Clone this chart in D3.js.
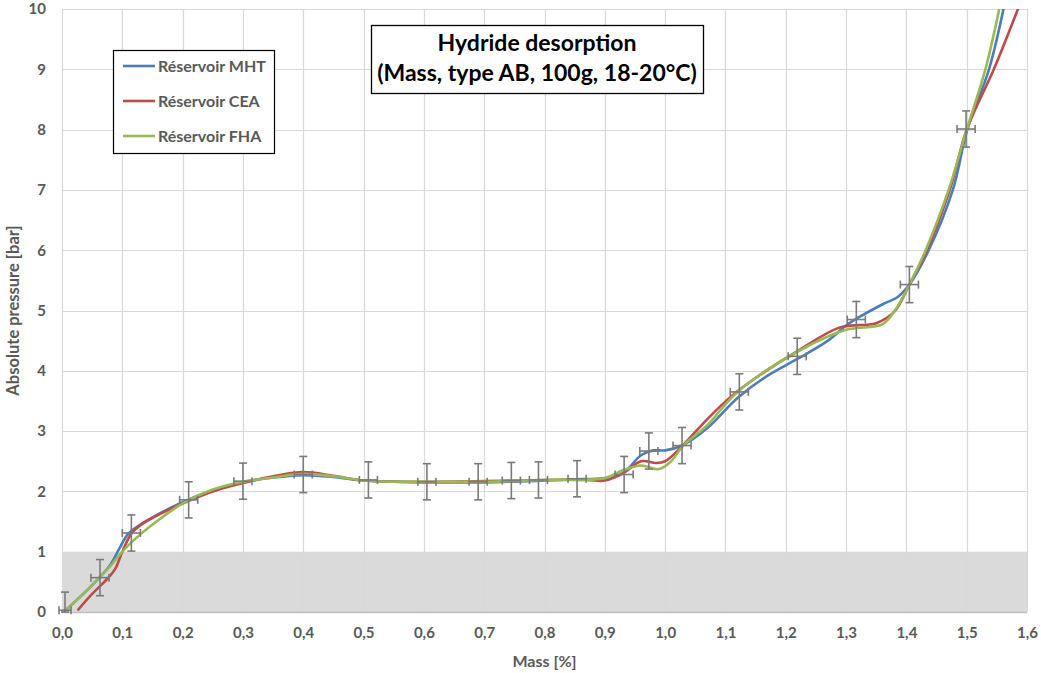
<!DOCTYPE html>
<html>
<head>
<meta charset="utf-8">
<script src="https://cdn.jsdelivr.net/npm/d3@7"></script>
<style>
  html, body { margin: 0; padding: 0; background: #ffffff; }
  svg { display: block; font-family: Lato, "Open Sans", sans-serif; }
</style>
</head>
<body>
<svg id="chart" width="1041" height="673"></svg>
<script>
// Desorption curves: mass [%] vs absolute pressure [bar]
const mhtMass = [0.005, 0.03, 0.06, 0.08, 0.095, 0.11, 0.13, 0.15, 0.2, 0.25, 0.3, 0.35, 0.4, 0.45, 0.5, 0.55, 0.6, 0.7, 0.8, 0.85, 0.9, 0.93, 0.96, 0.98, 1.0, 1.03, 1.07, 1.12, 1.17, 1.22, 1.27, 1.3, 1.32, 1.36, 1.385, 1.405, 1.437, 1.477, 1.501, 1.537, 1.561];
const mhtPressure = [0.02, 0.25, 0.55, 0.78, 1.05, 1.3, 1.45, 1.57, 1.82, 2.02, 2.15, 2.23, 2.27, 2.24, 2.18, 2.16, 2.15, 2.15, 2.18, 2.2, 2.22, 2.3, 2.6, 2.68, 2.68, 2.77, 3.05, 3.55, 3.92, 4.2, 4.5, 4.75, 4.88, 5.1, 5.22, 5.43, 6.0, 7.0, 8.0, 9.0, 10.0];

const ceaMass = [0.027, 0.05, 0.075, 0.088, 0.1, 0.115, 0.13, 0.15, 0.2, 0.25, 0.3, 0.35, 0.4, 0.45, 0.5, 0.6, 0.7, 0.8, 0.87, 0.9, 0.93, 0.96, 0.985, 1.0, 1.03, 1.07, 1.11, 1.15, 1.22, 1.29, 1.35, 1.38, 1.405, 1.434, 1.472, 1.5, 1.545, 1.585];
const ceaPressure = [0.04, 0.3, 0.55, 0.71, 1.0, 1.3, 1.44, 1.56, 1.8, 2.0, 2.14, 2.25, 2.32, 2.26, 2.18, 2.16, 2.17, 2.19, 2.19, 2.18, 2.3, 2.5, 2.47, 2.5, 2.77, 3.2, 3.58, 3.88, 4.33, 4.72, 4.79, 4.98, 5.43, 6.0, 7.0, 8.0, 9.0, 10.0];

const fhaMass = [0.005, 0.03, 0.06, 0.08, 0.1, 0.12, 0.15, 0.2, 0.25, 0.3, 0.35, 0.4, 0.45, 0.5, 0.55, 0.6, 0.7, 0.8, 0.9, 0.93, 0.96, 0.99, 1.01, 1.03, 1.07, 1.12, 1.22, 1.3, 1.36, 1.381, 1.405, 1.432, 1.47, 1.5, 1.531, 1.554];
const fhaPressure = [0.02, 0.25, 0.55, 0.76, 1.0, 1.2, 1.45, 1.8, 2.03, 2.16, 2.23, 2.29, 2.25, 2.18, 2.16, 2.16, 2.16, 2.19, 2.22, 2.35, 2.43, 2.37, 2.5, 2.76, 3.1, 3.65, 4.32, 4.68, 4.77, 5.0, 5.43, 6.0, 7.0, 8.0, 9.0, 10.0];

// Measurement uncertainty crosses
const errMass = [0.005, 0.063, 0.115, 0.21, 0.30, 0.40, 0.508, 0.605, 0.69, 0.745, 0.79, 0.854, 0.932, 0.973, 1.028, 1.123, 1.219, 1.317, 1.405, 1.499];
const errPressure = [0.03, 0.57, 1.31, 1.86, 2.17, 2.28, 2.19, 2.16, 2.16, 2.18, 2.19, 2.21, 2.28, 2.67, 2.76, 3.65, 4.24, 4.85, 5.43, 8.01];
const errMassHalf = [0.01, 0.015, 0.015, 0.015, 0.015, 0.015, 0.015, 0.015, 0.015, 0.015, 0.015, 0.015, 0.015, 0.015, 0.015, 0.015, 0.015, 0.015, 0.015, 0.015];
const errPressureHalf = [0.3, 0.3, 0.3, 0.3, 0.3, 0.3, 0.3, 0.3, 0.3, 0.3, 0.3, 0.3, 0.3, 0.3, 0.3, 0.3, 0.3, 0.3, 0.3, 0.3];

const xTicks = [0, 0.1, 0.2, 0.3, 0.4, 0.5, 0.6, 0.7, 0.8, 0.9, 1.0, 1.1, 1.2, 1.3, 1.4, 1.5, 1.6];
const yTicks = [0, 1, 2, 3, 4, 5, 6, 7, 8, 9, 10];
const lowPressureBand = [0, 1];

const seriesNames = ["Réservoir MHT", "Réservoir CEA", "Réservoir FHA"];
const seriesColors = ["#4a7ebb", "#be4b48", "#98b954"];

const titleLines = ["Hydride desorption", "(Mass, type AB, 100g, 18-20°C)"];
const xTitle = "Mass [%]";
const yTitle = "Absolute pressure [bar]";

const svg = d3.select("#chart");
const plot = { left: 62, right: 1027, top: 9, bottom: 612 };

const x = d3.scaleLinear().domain([0, 1.6]).range([plot.left, plot.right]);
const y = d3.scaleLinear().domain([0, 10]).range([plot.bottom, plot.top]);

const textColor = "#595959";
const gridColor = "#d9d9d9";

// Shaded band below 1 bar
svg.append("rect")
  .attr("x", x(0)).attr("width", x(1.6) - x(0))
  .attr("y", y(lowPressureBand[1])).attr("height", y(lowPressureBand[0]) - y(lowPressureBand[1]))
  .attr("fill", "#dadada");

// Gridlines
svg.append("g").selectAll("line").data(yTicks.slice(1)).join("line")
  .attr("x1", plot.left).attr("x2", plot.right)
  .attr("y1", d => Math.round(y(d)) + 0.5).attr("y2", d => Math.round(y(d)) + 0.5)
  .attr("stroke", gridColor).attr("stroke-width", 1.2);
svg.append("g").selectAll("line").data(xTicks).join("line")
  .attr("x1", d => Math.round(x(d)) + 0.5).attr("x2", d => Math.round(x(d)) + 0.5)
  .attr("y1", plot.top).attr("y2", plot.bottom)
  .attr("stroke", gridColor).attr("stroke-width", 1.2);

// Bottom axis line
svg.append("line")
  .attr("x1", plot.left).attr("x2", plot.right)
  .attr("y1", y(0) + 0.5).attr("y2", y(0) + 0.5)
  .attr("stroke", "#bfbfbf").attr("stroke-width", 1.5);

// Tick labels from d3 axes (axis lines hidden)
const fmt = d => d3.format(".1f")(d).replace(".", ",");
const xAxis = svg.append("g")
  .attr("transform", `translate(0,${plot.bottom})`)
  .call(d3.axisBottom(x).tickValues(xTicks).tickFormat(fmt).tickSize(0).tickPadding(15));
const yAxis = svg.append("g")
  .attr("transform", `translate(${plot.left},0)`)
  .call(d3.axisLeft(y).tickValues(yTicks).tickFormat(d3.format("d")).tickSize(0).tickPadding(16));
[xAxis, yAxis].forEach(a => {
  a.select(".domain").remove();
  a.selectAll("text")
    .attr("fill", textColor)
    .style("font-family", "Lato, sans-serif")
    .style("font-weight", "700")
    .style("font-size", "15px");
});

// Axis titles
svg.append("text")
  .attr("x", (plot.left + plot.right) / 2).attr("y", 667)
  .attr("text-anchor", "middle")
  .attr("fill", textColor).style("font-weight", "700").style("font-size", "16px")
  .text(xTitle);
svg.append("text")
  .attr("transform", `translate(19,${(plot.top + plot.bottom) / 2}) rotate(-90)`)
  .attr("text-anchor", "middle")
  .attr("fill", textColor).style("font-weight", "700").style("font-size", "16.5px")
  .text(yTitle);

// Clip curves to the plotting area
svg.append("clipPath").attr("id", "plot-clip")
  .append("rect")
  .attr("x", plot.left).attr("y", plot.top)
  .attr("width", plot.right - plot.left).attr("height", plot.bottom - plot.top);

const line = d3.line()
  .x(d => x(d[0])).y(d => y(d[1]))
  .curve(d3.curveCatmullRom.alpha(0.5));

const series = [
  d3.zip(mhtMass, mhtPressure),
  d3.zip(ceaMass, ceaPressure),
  d3.zip(fhaMass, fhaPressure)
];

const curves = svg.append("g").attr("clip-path", "url(#plot-clip)");
series.forEach((s, i) => {
  curves.append("path")
    .datum(s)
    .attr("fill", "none")
    .attr("stroke", seriesColors[i])
    .attr("stroke-width", 2.6)
    .attr("stroke-linejoin", "round")
    .attr("stroke-linecap", "round")
    .attr("d", line);
});

// Error crosses
const errs = d3.range(errMass.length).map(i => ({
  m: errMass[i], p: errPressure[i], dm: errMassHalf[i], dp: errPressureHalf[i]
}));
const errColor = "#7a7a7a";
const cap = 4;
const eg = svg.append("g").attr("stroke", errColor).attr("stroke-width", 1.6).attr("fill", "none");
errs.forEach(e => {
  const cx = x(e.m), cy = y(e.p);
  const y1 = y(e.p + e.dp), y2 = y(Math.max(0, e.p - e.dp));
  const x1 = x(e.m - e.dm), x2 = x(e.m + e.dm);
  eg.append("line").attr("x1", cx).attr("x2", cx).attr("y1", y1).attr("y2", y2);
  eg.append("line").attr("x1", cx - cap).attr("x2", cx + cap).attr("y1", y1).attr("y2", y1);
  eg.append("line").attr("x1", cx - cap).attr("x2", cx + cap).attr("y1", y2).attr("y2", y2);
  eg.append("line").attr("x1", x1).attr("x2", x2).attr("y1", cy).attr("y2", cy);
  eg.append("line").attr("x1", x1).attr("x2", x1).attr("y1", cy - cap).attr("y2", cy + cap);
  eg.append("line").attr("x1", x2).attr("x2", x2).attr("y1", cy - cap).attr("y2", cy + cap);
});

// Legend
const legend = svg.append("g").attr("transform", "translate(113,50)");
legend.append("rect")
  .attr("x", 0.5).attr("y", 0.5).attr("width", 161).attr("height", 103)
  .attr("fill", "#ffffff").attr("stroke", "#000000").attr("stroke-width", 1.2);
seriesNames.forEach((name, i) => {
  const ly = 16 + i * 35;
  legend.append("line")
    .attr("x1", 10).attr("x2", 42).attr("y1", ly).attr("y2", ly)
    .attr("stroke", seriesColors[i]).attr("stroke-width", 2.6);
  legend.append("text")
    .attr("x", 45).attr("y", ly + 5.5)
    .attr("fill", textColor).style("font-weight", "700").style("font-size", "16px")
    .text(name);
});

// Title box
const titleBox = svg.append("g");
titleBox.append("rect")
  .attr("x", 371.5).attr("y", 25.5).attr("width", 332).attr("height", 68)
  .attr("fill", "#ffffff").attr("stroke", "#000000").attr("stroke-width", 1.3);
titleLines.forEach((t, i) => {
  titleBox.append("text")
    .attr("x", 537).attr("y", 51 + i * 30)
    .attr("text-anchor", "middle")
    .attr("fill", "#000000").style("font-weight", "700").style("font-size", "23px")
    .text(t);
});
</script>
</body>
</html>
